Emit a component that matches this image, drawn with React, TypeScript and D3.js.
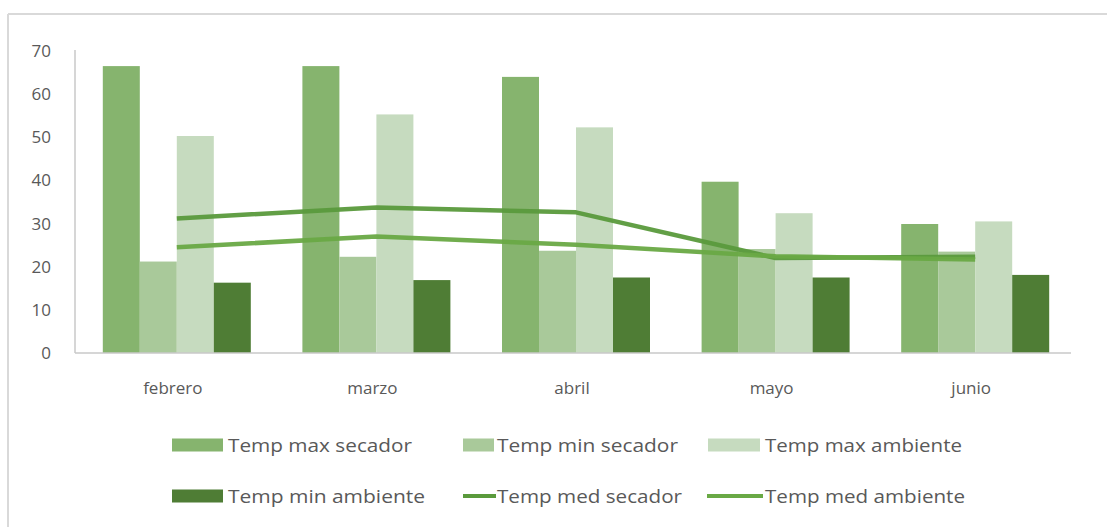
import React from "react";
import * as d3 from "d3";

const categories = ["febrero", "marzo", "abril", "mayo", "junio"];
const barSeries = ["Temp max secador", "Temp min secador", "Temp max ambiente", "Temp min ambiente"];
const tempMaxSecador = [66.5, 66.5, 64.0, 39.7, 29.9];
const tempMinSecador = [21.2, 22.3, 23.7, 24.1, 23.5];
const tempMaxAmbiente = [50.3, 55.3, 52.3, 32.4, 30.5];
const tempMinAmbiente = [16.3, 16.9, 17.5, 17.5, 18.1];
const tempMedSecador = [31.2, 33.7, 32.6, 22.0, 22.3];
const tempMedAmbiente = [24.5, 27.0, 25.1, 22.4, 21.7];
const yTicks = [0, 10, 20, 30, 40, 50, 60, 70];

const barValues = [tempMaxSecador, tempMinSecador, tempMaxAmbiente, tempMinAmbiente];
const barColors = ["#86b46e", "#a9c99a", "#c6dbbf", "#4f7d35"];
const lineSeries = [
  { name: "Temp med secador", values: tempMedSecador, color: "#5a9a3c" },
  { name: "Temp med ambiente", values: tempMedAmbiente, color: "#69a945" },
];

const W = 1107;
const H = 527;
const FONT = "'Open Sans', 'Noto Sans', sans-serif";
const TEXT = "#595959";

export default function App() {
  const y = d3.scaleLinear().domain([0, 70]).range([353, 51]);
  const x0 = d3.scaleBand<string>().domain(categories).range([77, 1075]);
  const groupW = 148;
  const x1 = d3.scaleBand<string>().domain(barSeries).range([0, groupW]);
  const cx = (c: string) => (x0(c) as number) + x0.bandwidth() / 2;
  const line = d3
    .line<number>()
    .x((_, i) => cx(categories[i]))
    .y((v) => y(v));

  const legend = [
    { name: barSeries[0], kind: "bar", color: barColors[0], sx: 172, sw: 51, tx: 228, row: 0, tw: 184 },
    { name: barSeries[1], kind: "bar", color: barColors[1], sx: 463, sw: 31, tx: 497, row: 0, tw: 181 },
    { name: barSeries[2], kind: "bar", color: barColors[2], sx: 708, sw: 52, tx: 765, row: 0, tw: 197 },
    { name: barSeries[3], kind: "bar", color: barColors[3], sx: 172, sw: 51, tx: 228, row: 1, tw: 197 },
    { name: lineSeries[0].name, kind: "line", color: lineSeries[0].color, sx: 463, sw: 33, tx: 497, row: 1, tw: 185 },
    { name: lineSeries[1].name, kind: "line", color: lineSeries[1].color, sx: 707, sw: 56, tx: 765, row: 1, tw: 200 },
  ];
  const rowY = [445, 496];

  return (
    <svg width={W} height={H} style={{ display: "block", position: "absolute", left: 0, top: 0 }}>
      <rect x={0} y={0} width={W} height={H} fill="#ffffff" />
      <line x1={8} y1={14} x2={W} y2={14} stroke="#d9d9d9" strokeWidth={2} />
      <line x1={8} y1={14} x2={8} y2={H} stroke="#d9d9d9" strokeWidth={2} />
      <line x1={75} y1={50} x2={75} y2={353} stroke="#c8c8c8" strokeWidth={1.5} />
      {yTicks.map((t) => (
        <text key={t} x={51} y={y(t)} dy="0.35em" textAnchor="end" fontFamily={FONT} fontSize={17} fill={TEXT}>
          {t}
        </text>
      ))}
      {categories.map((c, ci) => (
        <g key={c}>
          {barSeries.map((s, si) => {
            const v = barValues[si][ci];
            const bx = cx(c) - groupW / 2 + (x1(s) as number);
            return (
              <rect key={s} x={bx} y={y(v)} width={x1.bandwidth()} height={y(0) - y(v)} fill={barColors[si]} />
            );
          })}
          <text x={cx(c) - 4} y={388} dy="0.35em" textAnchor="middle" fontFamily={FONT} fontSize={17} fill={TEXT}>
            {c}
          </text>
        </g>
      ))}
      <line x1={75} y1={353} x2={1071} y2={353} stroke="#c8c8c8" strokeWidth={1.5} />
      {lineSeries.map((ls) => (
        <path key={ls.name} d={line(ls.values) as string} fill="none" stroke={ls.color} strokeWidth={4.5} strokeLinejoin="round" opacity={0.95} />
      ))}
      {legend.map((l) => (
        <g key={l.name}>
          {l.kind === "bar" ? (
            <rect x={l.sx} y={rowY[l.row] - 6.5} width={l.sw} height={13} fill={l.color} />
          ) : (
            <line x1={l.sx} y1={rowY[l.row]} x2={l.sx + l.sw} y2={rowY[l.row]} stroke={l.color} strokeWidth={4} />
          )}
          <text
            x={l.tx}
            y={rowY[l.row]}
            dy="0.35em"
            fontFamily={FONT}
            fontSize={19}
            fill={TEXT}
            textLength={l.tw}
            lengthAdjust="spacingAndGlyphs"
          >
            {l.name}
          </text>
        </g>
      ))}
    </svg>
  );
}
